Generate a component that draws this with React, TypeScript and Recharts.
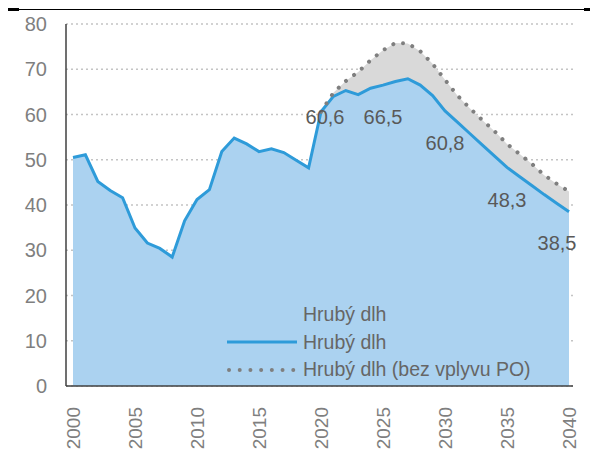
import {
  ComposedChart,
  Area,
  Line,
  XAxis,
  YAxis,
  CartesianGrid,
  Legend,
  LabelList,
} from "recharts";

const years = [
  2000, 2001, 2002, 2003, 2004, 2005, 2006, 2007, 2008, 2009, 2010, 2011, 2012,
  2013, 2014, 2015, 2016, 2017, 2018, 2019, 2020, 2021, 2022, 2023, 2024, 2025,
  2026, 2027, 2028, 2029, 2030, 2031, 2032, 2033, 2034, 2035, 2036, 2037, 2038,
  2039, 2040,
];

// Hrubý dlh (% HDP)
const grossDebt = [
  50.5, 51.1, 45.2, 43.2, 41.6, 34.9, 31.6, 30.4, 28.5, 36.5, 41.2, 43.4, 51.8,
  54.8, 53.5, 51.8, 52.4, 51.6, 49.9, 48.2, 60.6, 64.0, 65.3, 64.4, 65.8, 66.5,
  67.3, 67.9, 66.5, 64.2, 60.8, 58.3, 55.8, 53.3, 50.8, 48.3, 46.3, 44.3, 42.3,
  40.4, 38.5,
];

// Hrubý dlh bez vplyvu PO, only from 2020
const grossDebtNoPO = [
  null, null, null, null, null, null, null, null, null, null, null, null, null,
  null, null, null, null, null, null, null, 60.6, 64.8, 67.4, 69.4, 72.0, 74.2,
  75.8, 75.7, 74.0, 71.2, 67.7, 64.2, 61.4, 58.8, 56.3, 53.5, 51.3, 49.1, 46.6,
  44.7, 43.0,
];

const labelYears = [2020, 2025, 2030, 2035, 2040];
const labelTexts = ["60,6", "66,5", "60,8", "48,3", "38,5"];

const yTicks = [0, 10, 20, 30, 40, 50, 60, 70, 80];
const xTicks = [2000, 2005, 2010, 2015, 2020, 2025, 2030, 2035, 2040];

const data = years.map((year, i) => {
  const li = labelYears.indexOf(year);
  return {
    year,
    debt: grossDebt[i],
    noPO: grossDebtNoPO[i],
    label: li >= 0 ? labelTexts[li] : null,
  };
});

const FONT = "'Liberation Sans', Arial, sans-serif";
const BLUE = "#2e9bd9";
const BLUE_FILL = "#abd2f0";
const GREY_FILL = "#d9d9d9";
const DOTS = "#7f7f7f";

// label nudges relative to the point
const labelOffset: Record<number, [number, number]> = {
  2020: [4, 5],
  2025: [0, 32],
  2030: [0, 32],
  2035: [0, 33],
  2040: [-12, 31],
};

function DebtLabel(props: any) {
  const { x, y, value, index } = props;
  if (!value) return null;
  const [dx, dy] = labelOffset[years[index]] || [0, 0];
  return (
    <text
      x={x + dx}
      y={y + dy}
      textAnchor="middle"
      dominantBaseline="central"
      fontSize={20}
      fontFamily={FONT}
      fill="#595959"
    >
      {value}
    </text>
  );
}

function YearTick({ x, y, payload }: any) {
  return (
    <g transform={`translate(${x},${y + 13})`}>
      <text
        transform="rotate(-90)"
        textAnchor="end"
        dy="0.35em"
        fontSize={19}
        fontFamily={FONT}
        fill="#7f7f7f"
      >
        {payload.value}
      </text>
    </g>
  );
}

function LegendBox({ payload }: any) {
  const items = (payload || []).filter((e: any) => e.type !== "none");
  return (
    <div style={{ fontFamily: FONT, fontSize: 19.5, color: "#666" }}>
      {items.map((entry: any, i: number) => (
        <div
          key={i}
          style={{ display: "flex", alignItems: "center", height: 27.5 }}
        >
          <svg width={76} height={10} style={{ flex: "none" }}>
            {entry.type === "square" && (
              <rect x={30} y={0} width={10} height={10} fill={BLUE_FILL} />
            )}
            {entry.type === "line" && (
              <line x1={0} y1={5} x2={70} y2={5} stroke={BLUE} strokeWidth={3} />
            )}
            {entry.type === "plainline" && (
              <line
                x1={2}
                y1={5}
                x2={68}
                y2={5}
                stroke={DOTS}
                strokeWidth={4}
                strokeLinecap="round"
                strokeDasharray="0.01 10.7"
              />
            )}
          </svg>
          <span style={{ whiteSpace: "nowrap" }}>{entry.value}</span>
        </div>
      ))}
    </div>
  );
}

export default function App() {
  return (
    <div
      style={{
        position: "absolute",
        left: 0,
        top: 0,
        width: 590,
        height: 454,
        background: "#fff",
      }}
    >
      <div
        style={{
          position: "absolute",
          left: 8,
          top: 9,
          width: 577,
          borderTop: "1.5px solid #000",
        }}
      />
      <div
        style={{
          position: "absolute",
          left: 8,
          top: 8,
          width: 11,
          borderTop: "3px solid #000",
        }}
      />
      <div
        style={{
          position: "absolute",
          left: 584,
          top: 8,
          width: 6,
          borderTop: "3px solid #000",
        }}
      />
      <ComposedChart
        width={590}
        height={454}
        data={data}
        margin={{ top: 24, right: 17, bottom: 7, left: 16 }}
      >
        <CartesianGrid
          vertical={false}
          stroke="#c4c4c4"
          strokeWidth={1.5}
          strokeDasharray="2 3"
        />
        <XAxis
          dataKey="year"
          type="number"
          domain={[2000, 2040]}
          ticks={xTicks}
          padding={{ left: 7, right: 4 }}
          height={61}
          interval={0}
          tickLine={false}
          axisLine={{ stroke: "#404040", strokeWidth: 1.5 }}
          tick={<YearTick />}
        />
        <YAxis
          domain={[0, 80]}
          ticks={yTicks}
          width={50}
          interval={0}
          tickLine={false}
          tickSize={8}
          tickMargin={11}
          axisLine={{ stroke: "#404040", strokeWidth: 1.5 }}
          tick={{ fontSize: 20, fill: "#7f7f7f", fontFamily: FONT }}
        />
        <Area
          dataKey="noPO"
          type="linear"
          stroke="none"
          fill={GREY_FILL}
          fillOpacity={1}
          legendType="none"
          isAnimationActive={false}
        />
        <Area
          dataKey="debt"
          name="Hrubý dlh"
          type="linear"
          stroke="none"
          fill={BLUE_FILL}
          fillOpacity={1}
          legendType="square"
          isAnimationActive={false}
        />
        <Line
          dataKey="debt"
          name="Hrubý dlh"
          type="linear"
          stroke={BLUE}
          strokeWidth={3}
          dot={false}
          legendType="line"
          isAnimationActive={false}
        >
          <LabelList dataKey="label" content={<DebtLabel />} />
        </Line>
        <Line
          dataKey="noPO"
          name="Hrubý dlh (bez vplyvu PO)"
          type="linear"
          stroke={DOTS}
          strokeWidth={4}
          strokeLinecap="round"
          strokeDasharray="0.01 10"
          dot={false}
          legendType="plainline"
          isAnimationActive={false}
        />
        <Legend
          layout="horizontal"
          verticalAlign="middle"
          content={<LegendBox />}
          wrapperStyle={{ left: 227, top: 301, width: 330 }}
        />
      </ComposedChart>
    </div>
  );
}
